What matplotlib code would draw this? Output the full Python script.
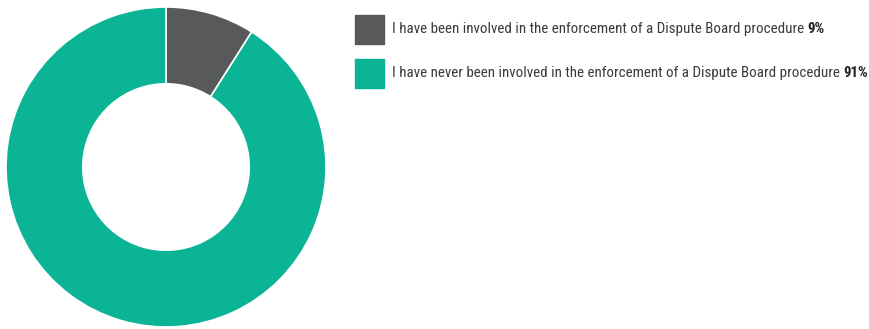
import matplotlib.pyplot as plt
from matplotlib.patches import Rectangle

labels = ["I have been involved in the enforcement of a Dispute Board procedure",
          "I have never been involved in the enforcement of a Dispute Board procedure"]
values = [9, 91]
colors = ["#58595b", "#0bb495"]

W, H = 869, 329
fig = plt.figure(figsize=(W / 100, H / 100), dpi=100)

# donut axes: circle spans x 6..326, y 7..327 px
ax = fig.add_axes([6 / W, (H - 327) / H, 320 / W, 320 / H])
ax.pie(values, colors=colors, startangle=90, counterclock=False, radius=1,
       wedgeprops=dict(width=0.48, edgecolor="white", linewidth=1.2))
ax.set_xlim(-1, 1)
ax.set_ylim(-1, 1)
ax.set_aspect("equal")
ax.axis("off")

font = ["Roboto Condensed", "DejaVu Sans"]
fsize = 10.85
renderer = fig.canvas.get_renderer()
rows_y = [29, 73]
for lab, val, col, yc in zip(labels, values, colors, rows_y):
    fig.add_artist(Rectangle((355 / W, (H - yc - 14.5) / H), 29 / W, 29 / H,
                             transform=fig.transFigure, color=col))
    t = fig.text(392 / W, (H - yc) / H, lab + " ", family=font, fontsize=fsize,
                 color="#3a3a3a", va="center", ha="left")
    bb = t.get_window_extent(renderer)
    fig.text(bb.x1 / W, (H - yc) / H, f"{val}%", family=font, fontsize=fsize,
             fontweight="bold", color="#222222", va="center", ha="left")

fig.savefig("out.png", dpi=100, facecolor="white")
